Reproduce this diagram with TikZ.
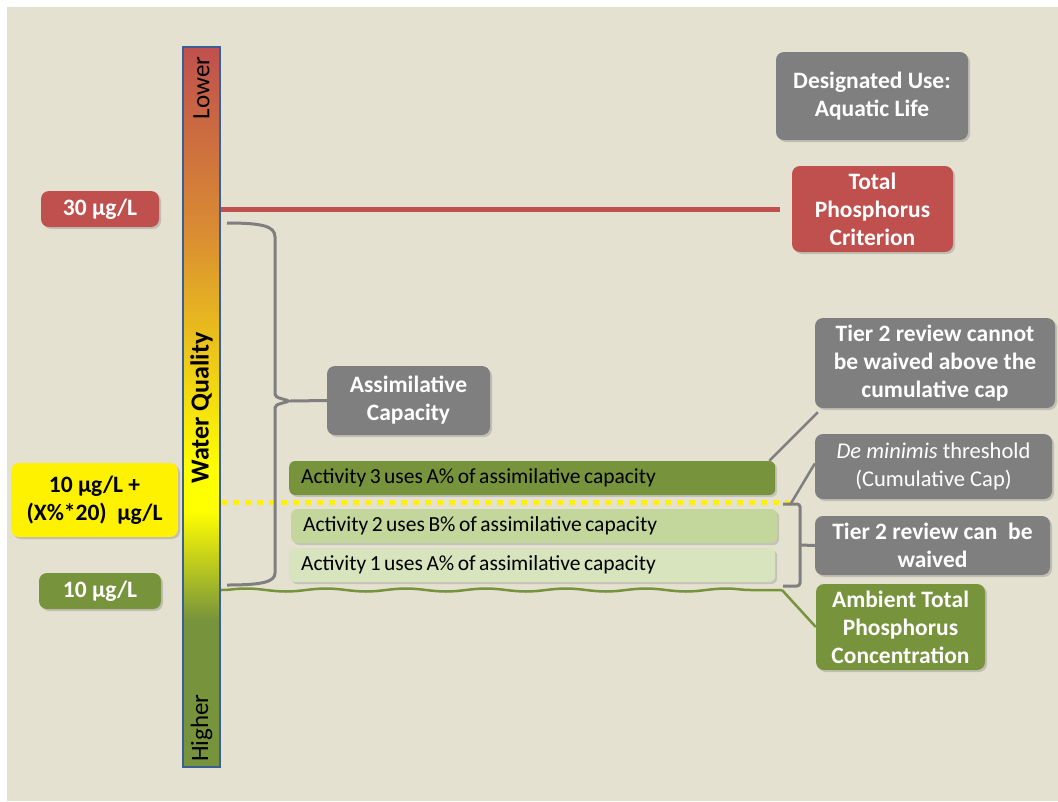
\documentclass[tikz,border=0pt]{standalone}
\usepackage{fontspec}
\setmainfont{Carlito}
\usetikzlibrary{shadows,decorations.pathmorphing}
\definecolor{sand}{HTML}{E4E1D1}
\definecolor{crimson}{HTML}{C0504D}
\definecolor{slate}{HTML}{7F7F7F}
\definecolor{olive}{HTML}{77933C}
\definecolor{pale}{HTML}{C3D69B}
\definecolor{paler}{HTML}{D7E4BD}
\definecolor{barblue}{HTML}{3A5F94}
\definecolor{orangey}{HTML}{D98B33}
\newcommand{\tightspaces}{\spaceskip=3.5pt plus 1pt\relax}
\pgfdeclareverticalshading{quality}{100bp}{color(0bp)=(olive); color(35.2bp)=(olive);
  color(42.8bp)=(yellow); color(45.6bp)=(yellow); color(62.3bp)=(orangey);
  color(75bp)=(crimson); color(100bp)=(crimson)}
\tikzset{
  tag/.style={rounded corners=8pt, align=center, inner sep=0pt, text=white,
    font=\fontsize{23.5}{28}\selectfont\bfseries,
    drop shadow={shadow xshift=2pt, shadow yshift=-2pt, opacity=0.35}},
  activity/.style={rounded corners=6pt, anchor=west, align=left, inner xsep=12pt,
    inner ysep=0pt, minimum height=34pt, text width=462pt,
    font=\fontsize{21.5}{24}\selectfont, execute at begin node=\tightspaces,
    drop shadow={shadow xshift=2pt, shadow yshift=-2pt, opacity=0.3}},
  brace/.style={draw=slate, line width=3pt, rounded corners=3pt},
}
\begin{document}
\begin{tikzpicture}[x=1pt,y=-1pt]
\useasboundingbox (0,0) rectangle (1058,801);
\fill[sand] (7,7) rectangle (1058,801);

% water quality bar
\node[draw=barblue, line width=2pt, shading=quality, minimum width=37pt,
  minimum height=720pt, inner sep=0pt] (bar) at (201.5,407) {};
\node[rotate=90, font=\fontsize{25}{28}\selectfont] (lower) at (201.5,88) {Lower};
\node[rotate=90, font=\fontsize{25}{28}\selectfont] (higher) at (201.5,728) {Higher};
\node[rotate=90, font=\fontsize{26}{28}\selectfont\bfseries] (wq) at (201.5,408) {Water Quality};

% levels
\node[tag, fill=crimson, minimum width=118pt, minimum height=36pt] (t30) at (100,209) {30 µg/L};
\node[tag, fill=yellow, text=black, minimum width=167pt, minimum height=74pt] (tcap) at (94.5,500)
  {10 µg/L +\\(X\%*20)~ µg/L};
\node[tag, fill=olive, minimum width=122pt, minimum height=36pt] (t10) at (100,591) {10 µg/L};

% right hand notes
\node[tag, fill=slate, minimum width=192pt, minimum height=88pt] (use) at (872,96)
  {Designated Use:\\Aquatic Life};
\node[tag, fill=crimson, minimum width=161pt, minimum height=86pt] (crit) at (872.5,209)
  {Total\\Phosphorus\\Criterion};
\node[tag, fill=slate, minimum width=163pt, minimum height=69pt] (assim) at (408.5,400.5)
  {Assimilative\\Capacity};
\node[tag, fill=slate, minimum width=240pt, minimum height=90pt] (cannot) at (935,363)
  {Tier 2 review cannot\\be waived above the\\cumulative cap};
\node[tag, fill=slate, minimum width=237pt, minimum height=65pt,
  font=\fontsize{22.5}{28}\selectfont] (demin) at (933.5,466.5)
  {\textit{De minimis} threshold\\(Cumulative Cap)};
\node[tag, fill=slate, minimum width=235pt, minimum height=59pt] (waived) at (932.5,545.5)
  {Tier 2 review can~ be\\waived};
\node[tag, fill=olive, minimum width=169pt, minimum height=86pt] (ambient) at (900.5,627)
  {Ambient Total\\Phosphorus\\Concentration};

% activities
\node[activity, fill=olive] (act3) at (289,478) {Activity 3 uses A\% of assimilative capacity};
\node[activity, fill=pale] (act2) at (291,526) {Activity 2 uses B\% of assimilative capacity};
\node[activity, fill=paler] (act1) at (289,565) {Activity 1 uses A\% of assimilative capacity};

% criterion line
\coordinate (critend) at (780,209);
\draw[crimson, line width=5pt] (bar.east |- critend) -- (critend);

% cumulative cap
\coordinate (capend) at (790,502);
\draw[yellow, line width=5pt, dash pattern=on 6pt off 6pt] (bar.east |- capend) -- (capend);

% ambient concentration
\coordinate (ambend) at (782,590);
\draw[olive, line width=2.5pt, decorate, decoration={snake, segment length=80pt, amplitude=1.5pt}]
  (bar.east |- ambend) -- (ambend);
\draw[olive, line width=2.5pt] (ambend) -- (ambient.west);

% braces
\coordinate (tip) at (290,401);
\draw[brace] (227,223) .. controls (262,223) and (275,226) .. (275,240) -- (275,388)
  .. controls (275,397) .. (tip) .. controls (275,405) .. (275,414) -- (275,570)
  .. controls (275,582) and (262,585) .. (227,585);
\draw[slate, line width=3pt] (tip) -- (assim.west);
\coordinate (rtip) at (800,545);
\draw[brace] (783,504) -- (800,504) -- (800,586) -- (783,586);
\draw[slate, line width=3pt] (rtip) -- (waived.west);

% pointers
\draw[slate, line width=2.5pt] ([xshift=-6pt]act3.north east) -- ([xshift=3pt,yshift=-4pt]cannot.south west);
\draw[slate, line width=2.5pt] ([yshift=-3pt]capend) -- ([yshift=3pt]demin.west);
\end{tikzpicture}
\end{document}
